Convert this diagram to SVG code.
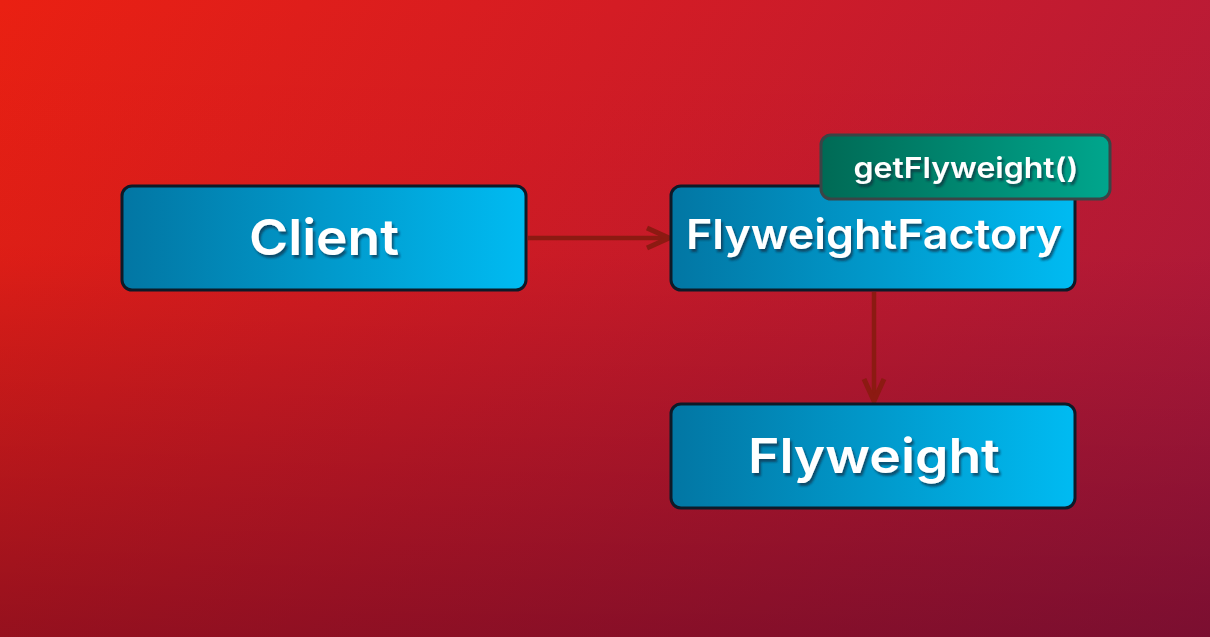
<svg xmlns="http://www.w3.org/2000/svg" width="1210" height="637" viewBox="0 0 1210 637">
<defs>
<linearGradient id="bg" x1="0" y1="0" x2="1210" y2="637" gradientUnits="userSpaceOnUse">
<stop offset="0" stop-color="#EA2012"/>
<stop offset="0.4" stop-color="#D41C24"/>
<stop offset="1" stop-color="#AE1A3E"/>
</linearGradient>
<linearGradient id="shade" x1="0" y1="0" x2="0" y2="637" gradientUnits="userSpaceOnUse">
<stop offset="0" stop-color="#3C0020" stop-opacity="0"/>
<stop offset="0.4" stop-color="#3C0020" stop-opacity="0.05"/>
<stop offset="1" stop-color="#3C0020" stop-opacity="0.45"/>
</linearGradient>
<linearGradient id="blue" x1="0" y1="0" x2="1" y2="0">
<stop offset="0" stop-color="#0276A3"/>
<stop offset="1" stop-color="#00BBF2"/>
</linearGradient>
<linearGradient id="green" x1="0" y1="0" x2="1" y2="0">
<stop offset="0" stop-color="#006A55"/>
<stop offset="1" stop-color="#00A68D"/>
</linearGradient>
<filter id="ts" x="-10%" y="-20%" width="120%" height="150%">
<feDropShadow dx="2" dy="3" stdDeviation="1.2" flood-color="#0A2030" flood-opacity="0.6"/>
</filter>
<marker id="arr2" markerWidth="30" markerHeight="30" refX="26" refY="15" orient="auto" markerUnits="userSpaceOnUse" viewBox="0 0 30 30">
<path d="M4,5 L26,15 L4,25" fill="none" stroke="#8C1A12" stroke-width="5"/>
</marker>
</defs>
<style>
.box{fill:url(#blue);stroke:#0D1A28;stroke-width:3}
.lbl{font-family:Inter,"Open Sans","Liberation Sans",sans-serif;font-weight:600;fill:#FFFFFF;text-anchor:middle;filter:url(#ts)}
.edge{stroke:#8C1A12;stroke-width:4.5;fill:none}
</style>
<rect x="0" y="0" width="1210" height="637" fill="url(#bg)"/>
<rect x="0" y="0" width="1210" height="637" fill="url(#shade)"/>
<g id="connectors">
<line class="edge" x1="528" y1="238" x2="669" y2="238" marker-end="url(#arr2)"/>
<line class="edge" x1="874" y1="292" x2="874" y2="401" marker-end="url(#arr2)"/>
</g>
<g id="client">
<rect class="box" x="122" y="186" width="404" height="104" rx="10"/>
<text class="lbl" x="324" y="255" font-size="50" textLength="150" lengthAdjust="spacingAndGlyphs">Client</text>
</g>
<g id="factory">
<rect class="box" x="671" y="186" width="404" height="104" rx="10"/>
<text class="lbl" x="874" y="249" font-size="41" textLength="376" lengthAdjust="spacingAndGlyphs">FlyweightFactory</text>
</g>
<g id="flyweight">
<rect class="box" x="671" y="404" width="404" height="104" rx="10"/>
<text class="lbl" x="874" y="473" font-size="48" textLength="252" lengthAdjust="spacingAndGlyphs">Flyweight</text>
</g>
<g id="getFlyweight">
<rect x="821" y="135" width="289" height="64" rx="10" fill="url(#green)" stroke="#3A4446" stroke-width="3"/>
<text class="lbl" x="966" y="178" font-size="28" textLength="225" lengthAdjust="spacingAndGlyphs">getFlyweight()</text>
</g>
</svg>
